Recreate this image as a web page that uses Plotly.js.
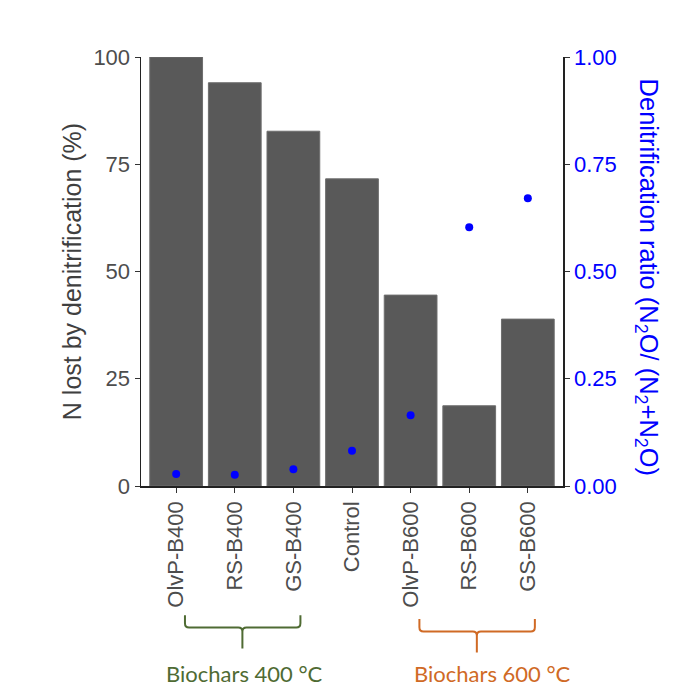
<!DOCTYPE html>
<html>
<head>
<meta charset="utf-8">
<script src="https://cdn.plot.ly/plotly-3.0.1.min.js"></script>
<style>
  html, body { margin: 0; padding: 0; background: #fff; }
  #chart { width: 698px; height: 700px; }
</style>
</head>
<body>
<div id="chart"></div>
<script>
// Treatments on the x axis
const treatments = ["OlvP-B400", "RS-B400", "GS-B400", "Control", "OlvP-B600", "RS-B600", "GS-B600"];
// N lost by denitrification (%) — bars, left axis
const nLost = [100, 94, 82.7, 71.6, 44.5, 18.7, 38.9];
// Denitrification ratio N2O/(N2+N2O) — points, right axis
const ratio = [0.028, 0.026, 0.039, 0.082, 0.165, 0.603, 0.671];
// Left and right tick values
const leftTicks = [0, 25, 50, 75, 100];
const rightTicks = [0, 0.25, 0.5, 0.75, 1];
// Biochar groups (first and last treatment index of each bracket)
const groupLabels = ["Biochars 400 °C", "Biochars 600 °C"];
const groupSpans = [[0, 2], [4, 6]];
const groupColors = ["#4f6b33", "#d06a25"];

const axisFont = { family: "Liberation Sans, Arial, sans-serif", size: 22, color: "#4d4d4d" };

const traces = [
  {
    type: "bar",
    x: treatments,
    y: nLost,
    width: 0.9,
    marker: { color: "#595959", line: { color: "#6e6e6e", width: 1 } },
    hoverinfo: "x+y"
  },
  {
    type: "scatter",
    mode: "markers",
    x: treatments,
    y: ratio,
    yaxis: "y2",
    marker: { color: "#0000ff", size: 8 },
    hoverinfo: "x+y"
  }
];

// Bracket shapes and group captions below the tick labels
const shapes = [];
const annotations = [];
const captionX = [1.17, 5.39];
groupSpans.forEach(([a, b], i) => {
  const x0 = a + 0.15, x1 = b + 0.12, xc = (a + b) / 2 + 0.13;
  const yTop = -0.301 - i * 0.009, yMid = yTop - 0.029, yStem = yTop - 0.078;
  const r = 0.07, rv = 0.01;
  const path =
    `M ${x0},${yTop} L ${x0},${yMid + rv} Q ${x0},${yMid} ${x0 + r},${yMid} ` +
    `L ${xc - r},${yMid} Q ${xc},${yMid} ${xc},${yMid - rv} ` +
    `Q ${xc},${yMid} ${xc + r},${yMid} L ${x1 - r},${yMid} ` +
    `Q ${x1},${yMid} ${x1},${yMid + rv} L ${x1},${yTop} ` +
    `M ${xc},${yMid - rv} L ${xc},${yStem}`;
  shapes.push({
    type: "path", xref: "x", yref: "paper", path: path,
    line: { color: groupColors[i], width: 2 }
  });
  annotations.push({
    xref: "x", yref: "paper", x: captionX[i], y: -0.436, yanchor: "middle",
    text: groupLabels[i], showarrow: false,
    font: { family: "Lato, Open Sans, sans-serif", size: 22, color: groupColors[i] }
  });
});

// Right-hand axis title, reading top to bottom
annotations.push({
  xref: "paper", yref: "paper", x: 1.2, y: 0.485, xanchor: "center", yanchor: "middle",
  text: "Denitrification ratio (N<sub>2</sub>O/ (N<sub>2</sub>+N<sub>2</sub>O)",
  textangle: 90, showarrow: false,
  font: { family: "Liberation Sans, Arial, sans-serif", size: 25.5, color: "#0000ff" }
});

const layout = {
  width: 698,
  height: 700,
  margin: { l: 141, r: 135, t: 57, b: 214 },
  paper_bgcolor: "#ffffff",
  plot_bgcolor: "#ffffff",
  showlegend: false,
  bargap: 0.1,
  xaxis: {
    type: "category",
    range: [-0.6, 6.6],
    tickangle: -90,
    ticks: "outside", ticklen: 5, tickcolor: "#333",
    showline: true, linecolor: "#222", linewidth: 1.5,
    showgrid: false, zeroline: false,
    tickfont: axisFont
  },
  yaxis: {
    range: [0, 100],
    tickvals: leftTicks,
    ticks: "outside", ticklen: 5, tickcolor: "#333",
    showline: true, linecolor: "#222", linewidth: 1.5,
    showgrid: false, zeroline: false,
    tickfont: axisFont,
    title: {
      text: "N lost by denitrification (%)",
      font: { family: "Liberation Sans, Arial, sans-serif", size: 25, color: "#3f3f3f" },
      standoff: 4
    }
  },
  yaxis2: {
    overlaying: "y",
    side: "right",
    range: [0, 1],
    tickvals: rightTicks,
    tickformat: ".2f",
    ticks: "outside", ticklen: 5, tickcolor: "#333",
    showline: true, linecolor: "#222", linewidth: 1.5,
    showgrid: false, zeroline: false,
    tickfont: { family: "Liberation Sans, Arial, sans-serif", size: 22, color: "#0000ff" }
  },
  shapes: shapes,
  annotations: annotations
};

Plotly.newPlot("chart", traces, layout, { displayModeBar: false, staticPlot: true });
</script>
</body>
</html>
